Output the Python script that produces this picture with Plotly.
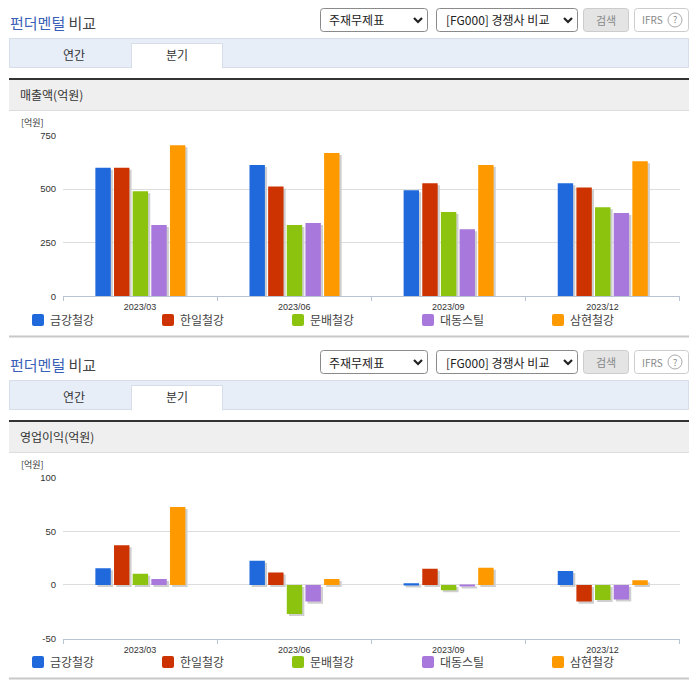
# coding=utf-8

import plotly.graph_objects as go

W = 696
H = 684
FONT = "Noto Sans CJK KR"

quarters = ["2023/03", "2023/06", "2023/09", "2023/12"]
companies = ["금강철강", "한일철강", "문배철강", "대동스틸", "삼현철강"]
colors = ["#1f69dd", "#cc3300", "#8cc30f", "#a878dc", "#ff9900"]

sales = [
    [600, 612, 495, 527],
    [600, 512, 527, 508],
    [490, 333, 393, 415],
    [333, 342, 313, 388],
    [705, 668, 612, 630],
]
profit = [
    [15.5, 22.5, 1.5, 13],
    [37, 11.5, 15, -15.5],
    [10.5, -27, -5, -14],
    [5.5, -15.5, -1, -13.5],
    [72.5, 5.5, 16, 4.5],
]
sales_ticks = [0, 250, 500, 750]
profit_ticks = [-50, 0, 50, 100]

shapes = []
annotations = []


def px(x):
    return x / W


def py(y):
    return 1 - y / H


def rect(x0, y0, x1, y1, fill, line=None):
    shapes.append(dict(
        type="rect", xref="paper", yref="paper",
        x0=px(x0), x1=px(x1), y0=py(y0), y1=py(y1),
        fillcolor=fill, line=dict(color=line or fill, width=1 if line else 0),
    ))


def round_rect(x0, y0, x1, y1, r, fill, line=None):
    # svg path in pixels of the page, margins are zero so they map 1:1
    path = (f"M{x0 + r},{y0} L{x1 - r},{y0} Q{x1},{y0} {x1},{y0 + r} "
            f"L{x1},{y1 - r} Q{x1},{y1} {x1 - r},{y1} L{x0 + r},{y1} "
            f"Q{x0},{y1} {x0},{y1 - r} L{x0},{y0 + r} Q{x0},{y0} {x0 + r},{y0} Z")
    shapes.append(dict(
        type="path", xref="x99", yref="y99", path=path,
        fillcolor=fill, line=dict(color=line or fill, width=1 if line else 0),
    ))


def chevron(x, y):
    shapes.append(dict(
        type="path", xref="x99", yref="y99",
        path=f"M{x - 4},{y - 2} L{x},{y + 2} L{x + 4},{y - 2}",
        line=dict(color="#222222", width=2.2),
    ))


def text(x, y, s, size=12, color="#333333", anchor="left"):
    annotations.append(dict(
        xref="paper", yref="paper", x=px(x), y=py(y), text=s, showarrow=False,
        xanchor=anchor, yanchor="middle", borderpad=0,
        font=dict(family=FONT, size=size, color=color),
    ))


def panel(top, label):
    # page furniture above and below one chart, top is the pixel offset of the block
    text(9, top + 23, '<span style="color:#3a5fb8">펀더멘털</span> 비교', 15, "#444444")

    round_rect(320.5, top + 8.5, 427.5, top + 31.5, 3, "#ffffff", "#8a8a8a")
    text(328, top + 20, "주재무제표", 12, "#222222")
    chevron(418, top + 20)
    round_rect(436.5, top + 8.5, 577.5, top + 31.5, 3, "#ffffff", "#8a8a8a")
    text(445, top + 20, "[FG000] 경쟁사 비교", 12, "#222222")
    chevron(568, top + 20)
    round_rect(583.5, top + 8.5, 628.5, top + 31.5, 3, "#e4e4e4", "#cccccc")
    text(606, top + 20, "검색", 11, "#888888", "center")
    round_rect(634.5, top + 8.5, 688.5, top + 31.5, 3, "#ffffff", "#cccccc")
    text(641, top + 20, "IFRS", 10, "#888888")
    shapes.append(dict(
        type="circle", xref="x99", yref="y99",
        x0=668, x1=682, y0=top + 13, y1=top + 27,
        line=dict(color="#aaaaaa", width=1),
    ))
    text(675, top + 20, "?", 9, "#888888", "center")

    rect(9.5, top + 38.5, 688.5, top + 67.5, "#e8eef8", "#d5dde8")
    rect(131.5, top + 43.5, 222.5, top + 68, "#ffffff", "#d5dde8")
    rect(132, top + 66, 222, top + 69, "#ffffff")
    text(74, top + 54.5, "연간", 12, "#333333", "center")
    text(177, top + 54.5, "분기", 12, "#333333", "center")

    rect(9, top + 78, 689, top + 80, "#333333")
    rect(9, top + 80, 689, top + 110, "#efefef")
    rect(9, top + 110, 689, top + 111, "#dddddd")
    text(19, top + 95, label, 12, "#333333")
    text(20, top + 122.5, "[억원]", 9, "#333333")

    for i, name in enumerate(companies):
        x = 32 + i * 130
        round_rect(x, top + 314, x + 12, top + 326, 2, colors[i])
        text(x + 17, top + 319.5, name, 12, "#444444")
    rect(9, top + 335.5, 689, top + 337.5, "#c8c8c8")


fig = go.Figure()

BAR_WIDTH = 0.1
BAR_STEP = 0.121
BAR_START = -0.29
SHADOW_DX = 0.014
SHADOW_PX = 2
PLOT_H = 161


def add_chart(values, xaxis, y_shadow, y_main):
    for i, name in enumerate(companies):
        offset = BAR_START + i * BAR_STEP
        fig.add_trace(go.Bar(
            x=quarters, y=values[i], xaxis=xaxis, yaxis=y_shadow,
            width=BAR_WIDTH, offset=offset + SHADOW_DX,
            marker=dict(color="#cfcfcf", line_width=0),
            showlegend=False, hoverinfo="skip",
        ))
    for i, name in enumerate(companies):
        offset = BAR_START + i * BAR_STEP
        fig.add_trace(go.Bar(
            name=name, x=quarters, y=values[i], xaxis=xaxis, yaxis=y_main,
            width=BAR_WIDTH, offset=offset,
            marker=dict(color=colors[i], line_width=0),
            showlegend=False,
        ))


add_chart(sales, "x", "y", "y2")
add_chart(profit, "x2", "y3", "y4")

panel(0, "매출액(억원)")
panel(342, "영업이익(억원)")

x_style = dict(
    type="category", domain=[px(63), px(679.5)], tickson="boundaries",
    ticks="outside", ticklen=4, tickwidth=1, tickcolor="#b8c4d4",
    showline=True, linecolor="#b8c4d4", linewidth=1, showgrid=False,
    tickfont=dict(family="Liberation Sans", size=9, color="#333333"),
    ticklabelstandoff=2, zeroline=False, automargin=False,
)
y_style = dict(
    showgrid=True, gridcolor="#dddddd", gridwidth=1, zeroline=False,
    ticks="", ticklabelstandoff=6, showline=False, automargin=False,
    tickfont=dict(family="Liberation Sans", size=9.5, color="#333333"),
)


def shifted(lo, hi):
    d = (hi - lo) * SHADOW_PX / PLOT_H
    return [lo + d, hi + d]


dom1 = [py(296.3), py(135.5)]
dom2 = [py(638.7), py(477.5)]

fig.update_layout(
    width=W, height=H, autosize=False,
    margin=dict(l=0, r=0, t=0, b=0),
    paper_bgcolor="#ffffff", plot_bgcolor="rgba(0,0,0,0)",
    barmode="overlay", showlegend=False,
    font=dict(family=FONT),
    shapes=shapes, annotations=annotations,
    xaxis=dict(anchor="y", **x_style),
    yaxis=dict(domain=dom1, range=shifted(0, 750), visible=False, anchor="x", automargin=False),
    yaxis2=dict(domain=dom1, range=[0, 750], tickvals=sales_ticks,
                ticktext=[str(t) for t in sales_ticks],
                overlaying="y", anchor="x", **y_style),
    xaxis2=dict(anchor="y3", **x_style),
    yaxis3=dict(domain=dom2, range=shifted(-50, 100), visible=False, anchor="x2", automargin=False),
    yaxis4=dict(domain=dom2, range=[-50, 100], tickvals=profit_ticks,
                ticktext=[str(t) for t in profit_ticks],
                overlaying="y3", anchor="x2", **y_style),
    # helper axes in page pixels for the rounded page furniture
    xaxis99=dict(domain=[0, 1], range=[0, W], visible=False, fixedrange=True, anchor="y99", automargin=False),
    yaxis99=dict(domain=[0, 1], range=[H, 0], visible=False, fixedrange=True, anchor="x99", automargin=False),
)

fig.write_html(
    "out.html",
    config=dict(displayModeBar=False),
    post_script="document.body.style.margin='0';document.body.style.overflow='hidden';",
)
